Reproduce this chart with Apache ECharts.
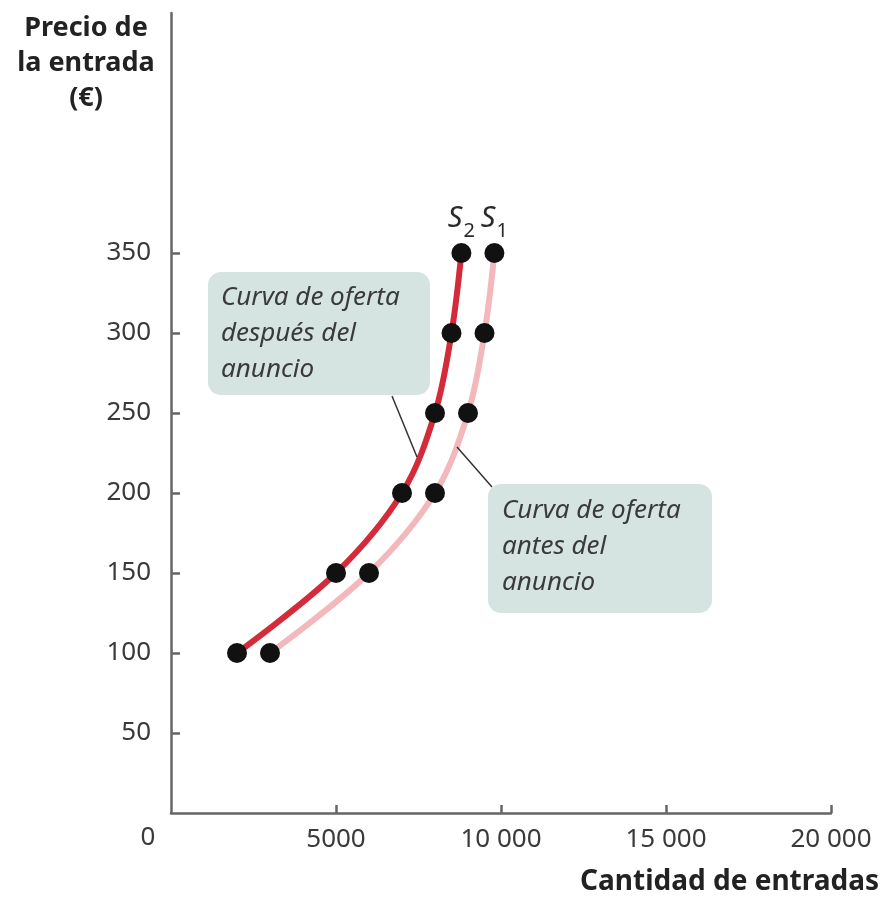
<!DOCTYPE html>
<html>
<head>
<meta charset="utf-8">
<script src="https://cdn.jsdelivr.net/npm/echarts@6/dist/echarts.min.js"></script>
<style>html,body{margin:0;padding:0;background:#fff;}#c{width:883px;height:902px;}</style>
</head>
<body>
<div id="c"></div>
<script>
const priceTicks = [50, 100, 150, 200, 250, 300, 350];
const qtyTicks = [5000, 10000, 15000, 20000];
const prices = [100, 150, 200, 250, 300, 350];
const s2Qty = [2000, 5000, 7000, 8000, 8500, 8800];
const s1Qty = [3000, 6000, 8000, 9000, 9500, 9800];
const yTitle = 'Precio de\nla entrada\n(€)';
const xTitle = 'Cantidad de entradas';
const note2 = 'Curva de oferta\ndespués del\nanuncio';
const note1 = 'Curva de oferta\nantes del\nanuncio';

const FONT = '"Noto Sans", "Open Sans", sans-serif';
const chart = echarts.init(document.getElementById('c'));

function fmt(v) {
  return v >= 10000 ? String(v).replace(/(\d)(?=(\d{3})+$)/g, '$1 ') : String(v);
}
function pts(q) { return q.map((x, i) => [x, prices[i]]); }

function lastLabel(sub) {
  return {
    show: true, position: 'top', distance: 2,
    formatter: '{s|S}{n|' + sub + '}',
    rich: {
      s: { fontFamily: FONT, fontStyle: 'italic', fontSize: 29, color: '#2a2a2a', verticalAlign: 'top', padding: [0, 0, 8, 0] },
      n: { fontFamily: FONT, fontSize: 20, color: '#2a2a2a', verticalAlign: 'bottom', padding: [0, 0, 0, 1] }
    }
  };
}

function series(name, q, color, sub) {
  const data = pts(q).map((p, i) => i === q.length - 1 ? { value: p, label: lastLabel(sub) } : { value: p });
  return {
    name, type: 'line', data, smooth: 0.35, z: 3,
    lineStyle: { color, width: 6 },
    symbol: 'circle', symbolSize: 20,
    itemStyle: { color: '#111', borderWidth: 0 },
    emphasis: { disabled: true }
  };
}

chart.setOption({
  animation: false,
  grid: { left: 171, right: 52, top: 13, bottom: 89 },
  xAxis: {
    type: 'value', min: 0, max: 20000, interval: 5000,
    axisLine: { show: true, lineStyle: { color: '#666', width: 2.5 } },
    axisTick: { show: true, inside: true, length: 8, lineStyle: { color: '#666', width: 2.5 }, customValues: qtyTicks },
    axisLabel: { customValues: qtyTicks, formatter: fmt, fontFamily: FONT, fontSize: 26, color: '#3a3a3a', margin: 14 },
    splitLine: { show: false }
  },
  yAxis: {
    type: 'value', min: 0, max: 500, interval: 50,
    axisLine: { show: true, lineStyle: { color: '#666', width: 2.5 } },
    axisTick: { show: true, inside: true, length: 9, lineStyle: { color: '#666', width: 2.5 }, customValues: priceTicks },
    axisLabel: { customValues: priceTicks, fontFamily: FONT, fontSize: 26, color: '#3a3a3a', margin: 20 },
    splitLine: { show: false }
  },
  series: [
    series('S1', s1Qty, '#f3b8bb', '1'),
    series('S2', s2Qty, '#d42b3b', '2')
  ],
  graphic: [
    { type: 'text', style: { x: 86, y: 11, text: yTitle, textAlign: 'center', fontFamily: FONT, fontWeight: 'bold', fontSize: 27, lineHeight: 35, fill: '#222' } },
    { type: 'text', style: { x: 879, y: 868, text: xTitle, textAlign: 'right', fontFamily: FONT, fontWeight: 'bold', fontSize: 28, fill: '#222' } },
    { type: 'text', style: { x: 148, y: 825, text: '0', textAlign: 'center', fontFamily: FONT, fontSize: 26, fill: '#3a3a3a' } },
    { type: 'line', z: 10, shape: { x1: 392, y1: 396, x2: 417, y2: 457 }, style: { stroke: '#333', lineWidth: 1.5 } },
    { type: 'line', z: 10, shape: { x1: 457, y1: 447, x2: 492, y2: 487 }, style: { stroke: '#333', lineWidth: 1.5 } },
    { type: 'rect', z: 10, shape: { x: 208, y: 272, width: 222, height: 123, r: 13 }, style: { fill: '#d5e3e1' } },
    { type: 'text', z: 11, style: { x: 221, y: 280, text: note2, fontFamily: FONT, fontStyle: 'italic', fontSize: 26, lineHeight: 36, fill: '#3a3a3a' } },
    { type: 'rect', z: 10, shape: { x: 488, y: 484, width: 224, height: 129, r: 13 }, style: { fill: '#d5e3e1' } },
    { type: 'text', z: 11, style: { x: 502, y: 493, text: note1, fontFamily: FONT, fontStyle: 'italic', fontSize: 26, lineHeight: 36, fill: '#3a3a3a' } }
  ]
});
</script>
</body>
</html>
